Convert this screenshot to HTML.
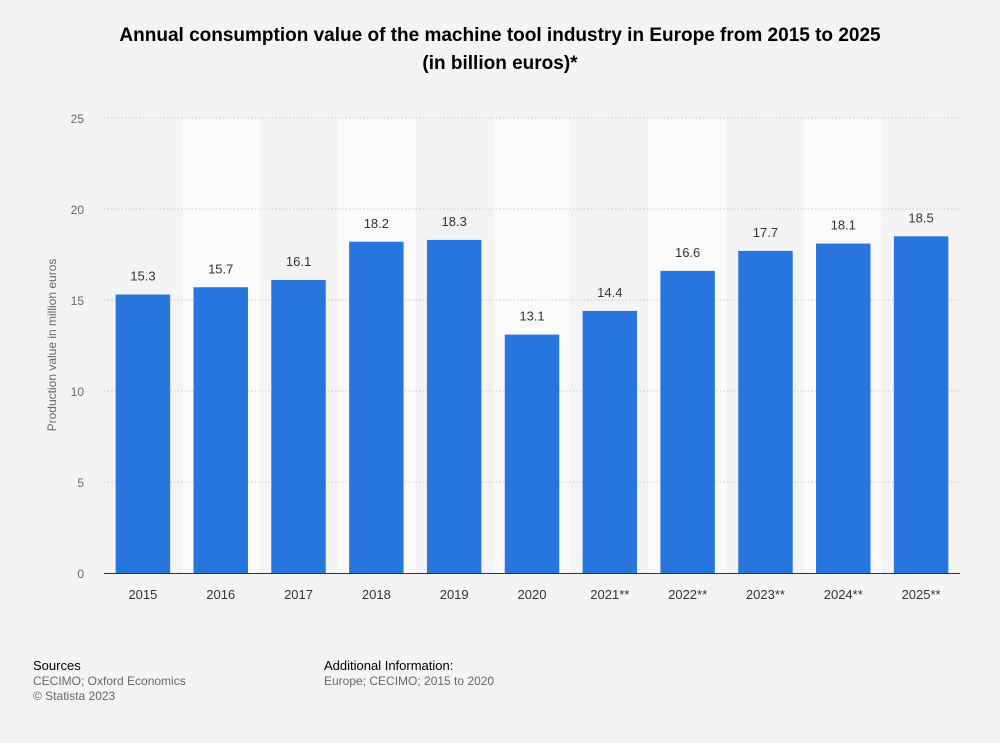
<!DOCTYPE html>
<html><head><meta charset="utf-8">
<style>
body{margin:0;background:#f4f4f4;font-family:"Liberation Sans",Arial,sans-serif;}
#wrap{position:relative;width:1000px;height:743px;background:#f4f4f4;overflow:hidden}
h1{position:absolute;left:0;top:22px;width:1000px;margin:0;text-align:center;font-size:19px;line-height:28px;font-weight:bold;color:#000}
.foot{position:absolute;font-size:12px;line-height:15px;color:#666}
.foot b{font-weight:normal;color:#000;font-size:13px}
</style></head><body>
<div id="wrap">
<h1>Annual consumption value of the machine tool industry in Europe from 2015 to 2025<br>(in billion euros)*</h1>
<svg id="chart" width="1000" height="743" style="position:absolute;left:0;top:0"></svg>
<div class="foot" style="left:33px;top:658px"><b>Sources</b><br>CECIMO; Oxford Economics<br>© Statista 2023</div>
<div class="foot" style="left:324px;top:658px"><b>Additional Information:</b><br>Europe; CECIMO; 2015 to 2020</div>
</div>
<script>
const categories=["2015","2016","2017","2018","2019","2020","2021**","2022**","2023**","2024**","2025**"];
const values=[15.3,15.7,16.1,18.2,18.3,13.1,14.4,16.6,17.7,18.1,18.5];
const yTicks=[0,5,10,15,20,25];
const NS="http://www.w3.org/2000/svg";
const svg=document.getElementById('chart');
const L=104,R=960,T=118,B=573,yMax=25;
const bw=(R-L)/categories.length;
function y(v){return B-(v/yMax)*(B-T);}
function x(i){return L+i*bw;}
function mk(t,a,txt){const e=document.createElementNS(NS,t);for(const k in a)e.setAttribute(k,a[k]);if(txt!==undefined)e.textContent=txt;svg.appendChild(e);return e;}
categories.forEach((c,i)=>{if(i%2===1){const b=mk('rect',{x:x(i),y:T,width:bw,height:B-T,fill:'#fafafa'});

}});
yTicks.forEach(t=>{
 if(t>0){const g=mk('line',{x1:L,x2:R,y1:y(t),y2:y(t),stroke:'#c8c8c8','stroke-dasharray':'1.5,2'});
 
 }
 const l=mk('text',{x:84,y:y(t)+5,'text-anchor':'end','font-size':12,fill:'#666'},t);
 
 
});
categories.forEach((c,i)=>{
 const w=bw*0.7,cx=x(i)+bw/2;
 const r=mk('rect',{x:cx-w/2,y:y(values[i]),width:w,height:B-y(values[i]),fill:'#2876dd'});
 
 
 const v=mk('text',{x:cx,y:y(values[i])-14,'text-anchor':'middle','font-size':13,fill:'#333'},values[i].toFixed(1));
 
 
 const xl=mk('text',{x:cx,y:599,'text-anchor':'middle','font-size':13,fill:'#333'},c);
 
 
});
const ax=mk('line',{x1:L,x2:R,y1:B+0.5,y2:B+0.5,stroke:'#333','stroke-width':1});


const yt=mk('text',{x:0,y:0,'text-anchor':'middle','font-size':12,fill:'#666',transform:'translate(56,345) rotate(-90)'},'Production value in million euros');


</script>
</body></html>
